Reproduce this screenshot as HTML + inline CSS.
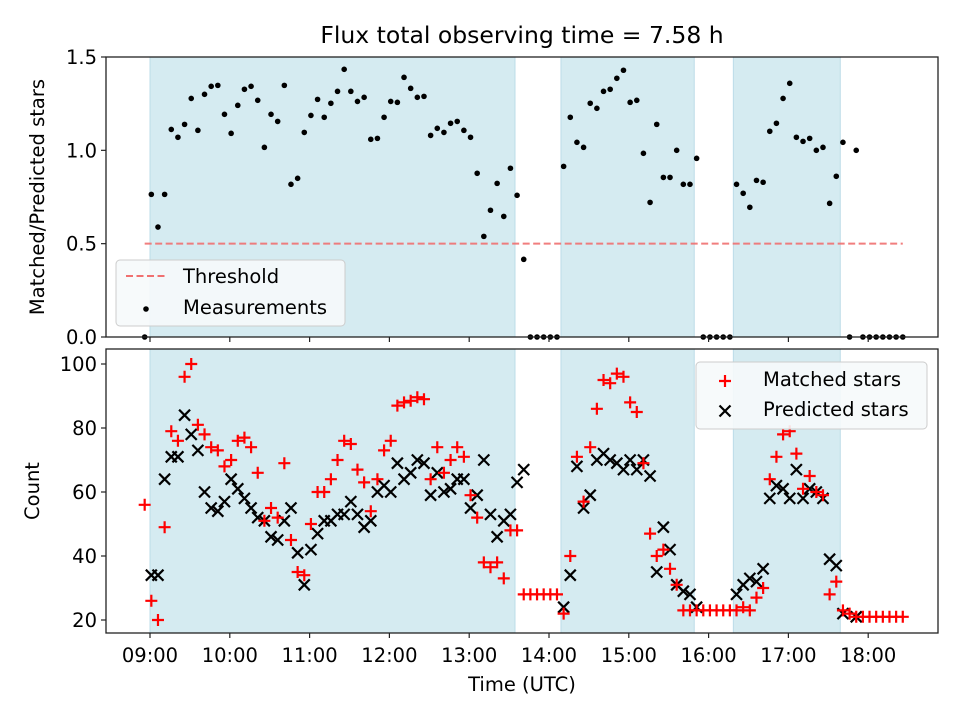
<!DOCTYPE html>
<html><head><meta charset="utf-8"><style>
html,body{margin:0;padding:0;background:#fff;}
svg{display:block;font-family:"DejaVu Sans","Liberation Sans",sans-serif;}
</style></head><body>
<svg id="chart" width="960" height="720" viewBox="0 0 960 720"></svg>
<script>
// ---- data ----
const startHour = 8 + 56/60;   // first sample time
const stepMin = 5;             // cadence in minutes
const ratioValues = [0,0.764,0.589,0.764,1.112,1.07,1.139,1.278,1.107,1.30,1.343,1.348,1.193,1.091,1.241,1.327,1.343,1.268,1.016,1.193,1.155,1.348,0.818,0.85,1.096,1.187,1.273,1.177,1.252,1.316,1.434,1.316,1.262,1.284,1.059,1.064,1.177,1.262,1.257,1.391,1.332,1.284,1.289,1.080,1.118,1.096,1.145,1.155,1.107,1.07,0.877,0.539,0.679,0.823,0.646,0.904,0.759,0.416,
0,0,0,0,0,
0.914,1.177,1.043,1.016,1.252,1.225,1.316,1.327,1.386,1.429,1.257,1.268,0.984,0.721,1.139,0.855,0.855,1.0,0.818,0.818,0.957,
0,0,0,0,0,
0.818,0.77,0.695,0.839,0.829,1.102,1.145,1.278,1.359,1.07,1.048,1.064,1.0,1.016,0.716,0.861,1.043,
0,1.0,0,0,0,0,0,0,0];
const matchedValues = [56,26,20,49,79,76,96,100,81,78,74,73,68,70,76,77,74,66,51,55,52,69,45,35,34,50,60,60,64,70,76,75,67,63,54,64,73,76,87,88,88.5,89.6,89,64,74,66,70,74,71,59,52,38,36.5,38,33,48,48,28,
28,28,28,28,28,
22,40,71,57,74,86,95,94,97,96,88,85,69,47,40,42,36,31,23,23,23,
23,23,23,23,23,
23,24,23,27,30,64,71,78,79,72,61,65,60,59,28,32,23,
22,21,21,21,21,21,21,21,21];
const predictedValues = [null,34,34,64,71,71,84,78,73,60,55,54,57,64,61,58,55,52,51,46,45,51,55,41,31,42,47,51,51,53,53,57,53,49,51,60,62,60,69,64,66,70,69,59,66,60,61,64,64,55,59,70,53,46,51,53,63,67,
null,null,null,null,null,
24,34,68,55,59,70,72,70,69,67,70,67,70,65,35,49,42,31,29,28,24,
null,null,null,null,null,
28,31,33,32,36,58,62,61,58,67,58,61,60,58,39,37,22,
null,21,null,null,null,null,null,null,null];
const spanStarts = [9.0, 14.15, 16.31];
const spanEnds = [13.574, 15.82, 17.65];
const threshold = 0.5;
const xTickLabels = ["09:00","10:00","11:00","12:00","13:00","14:00","15:00","16:00","17:00","18:00"];
const xTickHours = [9,10,11,12,13,14,15,16,17,18];
const topTicks = [0.0,0.5,1.0,1.5];
const botTicks = [20,40,60,80,100];

// ---- axes ----
const NS = "http://www.w3.org/2000/svg";
const svg = document.getElementById('chart');
const L = 106, R = 938;
const topY0 = 57, topY1 = 337, botY0 = 349, botY1 = 633;
const xs = h => 150 + (h - 9) * 79.8;
const ysTop = v => 337 - v * 186.67;
const ysBot = v => 620 - (v - 20) * 3.2;
const tOf = i => startHour + i * stepMin / 60;

function mk(tag, attrs, parent) {
  const e = document.createElementNS(NS, tag);
  for (const k in attrs) e.setAttribute(k, attrs[k]);
  (parent || svg).appendChild(e);
  return e;
}
function txt(s, attrs, parent) { const e = mk('text', attrs, parent); e.textContent = s; return e; }

function panel(y0, y1, name) {
  const g = mk('g', {});
  
  
  mk('rect', {x: L, y: y0, width: R - L, height: y1 - y0, fill: '#fff'}, g);
  spanStarts.forEach((s, k) => {
    const r = mk('rect', {x: xs(s), y: y0, width: xs(spanEnds[k]) - xs(s), height: y1 - y0,
      fill: '#d5ebf1', stroke: '#bcdce8', 'stroke-width': 1}, g);
    
    
  });
  return g;
}
function frame(y0, y1, g) {
  mk('rect', {x: L, y: y0, width: R - L, height: y1 - y0, fill: 'none', stroke: '#222', 'stroke-width': 1.3}, g);
  xTickHours.forEach(h => mk('line', {x1: xs(h), x2: xs(h), y1: y1, y2: y1 + 5, stroke: '#222', 'stroke-width': 1.2}, g));
}

// top panel
const gTop = panel(topY0, topY1, 'ratio-panel');
const thr = mk('line', {x1: xs(tOf(0)), x2: xs(tOf(ratioValues.length - 1)), y1: ysTop(threshold), y2: ysTop(threshold),
  stroke: '#f07070', 'stroke-opacity': 0.9, 'stroke-width': 2, 'stroke-dasharray': '7,3.5'}, gTop);


ratioValues.forEach((v, i) => {
  const c = mk('circle', {cx: xs(tOf(i)), cy: ysTop(v), r: 2.8, fill: '#000'}, gTop);
  
  
});
frame(topY0, topY1, gTop);
topTicks.forEach(t => {
  mk('line', {x1: L - 5, x2: L, y1: ysTop(t), y2: ysTop(t), stroke: '#222', 'stroke-width': 1.2}, gTop);
  const e = txt(t.toFixed(1), {x: L - 9, y: ysTop(t) + 7, 'text-anchor': 'end', 'font-size': 19.5, fill: '#000'}, gTop);
  
  
});

// bottom panel
const gBot = panel(botY0, botY1, 'count-panel');
predictedValues.forEach((v, i) => {
  if (v === null) return;
  const x = xs(tOf(i)), y = ysBot(v), d = 5.5;
  const p = mk('path', {d: `M${x-d},${y-d}L${x+d},${y+d}M${x-d},${y+d}L${x+d},${y-d}`, stroke: '#000', 'stroke-width': 2.2, fill: 'none'}, gBot);
  
  
});
matchedValues.forEach((v, i) => {
  if (v === null) return;
  const x = xs(tOf(i)), y = ysBot(v), d = 6;
  const p = mk('path', {d: `M${x-d},${y}L${x+d},${y}M${x},${y-d}L${x},${y+d}`, stroke: '#f00', 'stroke-width': 2.2, fill: 'none'}, gBot);
  
  
});
frame(botY0, botY1, gBot);
botTicks.forEach(t => {
  mk('line', {x1: L - 5, x2: L, y1: ysBot(t), y2: ysBot(t), stroke: '#222', 'stroke-width': 1.2}, gBot);
  const e = txt(String(t), {x: L - 9, y: ysBot(t) + 7, 'text-anchor': 'end', 'font-size': 19.5, fill: '#000'}, gBot);
  
  
});
xTickHours.forEach((h, k) => {
  const e = txt(xTickLabels[k], {x: xs(h), y: 662, 'text-anchor': 'middle', 'font-size': 19.5, fill: '#000'});
  
  
});

// legends
const lg1 = mk('g', {});


mk('rect', {x: 116, y: 260, width: 229, height: 66, rx: 4, fill: '#f6f9fb', 'fill-opacity': 0.9, stroke: '#ccc', 'stroke-width': 1}, lg1);
mk('line', {x1: 126, x2: 166, y1: 276, y2: 276, stroke: '#f07070', 'stroke-width': 2, 'stroke-dasharray': '7,3.5'}, lg1);
mk('circle', {cx: 146, cy: 309, r: 2.8, fill: '#000'}, lg1);
txt('Threshold', {x: 183, y: 283, 'font-size': 19.5}, lg1);
txt('Measurements', {x: 183, y: 314, 'font-size': 19.5}, lg1);

const lg2 = mk('g', {});


mk('rect', {x: 696, y: 362, width: 231, height: 67, rx: 4, fill: '#f6f9fb', 'fill-opacity': 0.9, stroke: '#ccc', 'stroke-width': 1}, lg2);
mk('path', {d: 'M719,381L731,381M725,375L725,387', stroke: '#f00', 'stroke-width': 2.2}, lg2);
mk('path', {d: 'M719.5,405.5L730.5,416.5M719.5,416.5L730.5,405.5', stroke: '#000', 'stroke-width': 2.2}, lg2);
txt('Matched stars', {x: 763, y: 386, 'font-size': 19.5}, lg2);
txt('Predicted stars', {x: 763, y: 416, 'font-size': 19.5}, lg2);

// titles
const tt = txt('Flux total observing time = 7.58 h', {x: 522, y: 43, 'text-anchor': 'middle', 'font-size': 23.5});


const xl = txt('Time (UTC)', {x: 522, y: 691, 'text-anchor': 'middle', 'font-size': 19.5});


const yl1 = txt('Matched/Predicted stars', {x: 0, y: 0, 'text-anchor': 'middle', 'font-size': 19.5, transform: 'translate(44,197) rotate(-90)'});


const yl2 = txt('Count', {x: 0, y: 0, 'text-anchor': 'middle', 'font-size': 19.5, transform: 'translate(39,491) rotate(-90)'});


</script>
</body></html>
